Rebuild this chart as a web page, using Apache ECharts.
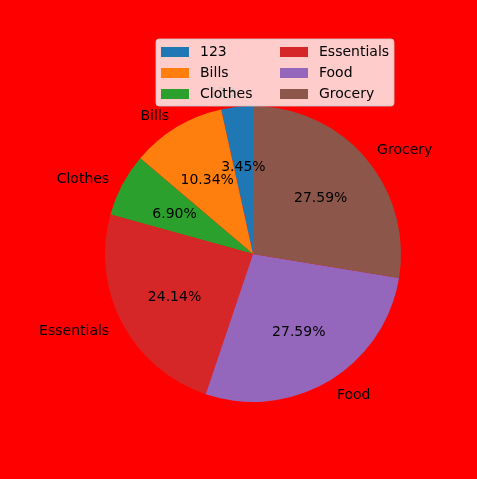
<!DOCTYPE html>
<html>
<head>
<meta charset="utf-8">
<script src="https://cdn.jsdelivr.net/npm/echarts@6/dist/echarts.min.js"></script>
<style>
  html, body { margin: 0; padding: 0; background: #ff0000; }
  #chart { width: 477px; height: 479px; }
</style>
</head>
<body>
<div id="chart"></div>
<script>
const categories = ['123', 'Bills', 'Clothes', 'Essentials', 'Food', 'Grocery'];
const counts = [1, 3, 2, 7, 8, 8];
const colors = ['#1f77b4', '#ff7f0e', '#2ca02c', '#d62728', '#9467bd', '#8c564b'];

const FONT = 'DejaVu Sans';
const R = 148;
const CENTER = [253, 254];

const total = counts.reduce((a, b) => a + b, 0);
const pieData = categories.map((name, i) => ({
  name,
  value: counts[i],
  itemStyle: { color: colors[i] },
}));

const chart = echarts.init(document.getElementById('chart'));

const legendBase = {
  orient: 'vertical',
  top: 45,
  padding: 0,
  itemWidth: 28,
  itemHeight: 10,
  itemGap: 7,
  icon: 'rect',
  selectedMode: false,
  z: 4,
  textStyle: { fontFamily: FONT, fontSize: 14, lineHeight: 14, color: '#000', padding: [0, 0, 0, 6] },
};

chart.setOption({
  backgroundColor: '#ff0000',
  animation: false,
  color: colors,
  graphic: [
    {
      type: 'rect',
      z: 3,
      shape: { x: 156, y: 39, width: 238, height: 67, r: 3 },
      style: { fill: 'rgba(255,255,255,0.8)', stroke: 'rgba(204,204,204,0.8)', lineWidth: 1 },
    },
  ],
  legend: [
    Object.assign({}, legendBase, { left: 161, data: categories.slice(0, 3) }),
    Object.assign({}, legendBase, { left: 280, data: categories.slice(3) }),
  ],
  series: [
    {
      // wedges with outside category labels
      type: 'pie',
      center: CENTER,
      radius: R,
      startAngle: 90,
      clockwise: false,
      avoidLabelOverlap: false,
      silent: true,
      z: 2,
      itemStyle: { borderWidth: 0 },
      label: {
        show: true,
        position: 'outside',
        fontFamily: FONT,
        fontSize: 14,
        color: '#000',
        distanceToLabelLine: 0,
      },
      labelLine: { show: false, length: R * 0.1, length2: 0 },
      labelLayout: () => ({ dy: 1.5 }),
      emphasis: { disabled: true },
      data: pieData,
    },
    {
      // tiny invisible pie, its outside labels sit at 0.6 R and get centred
      type: 'pie',
      center: CENTER,
      radius: 1,
      startAngle: 90,
      clockwise: false,
      avoidLabelOverlap: false,
      silent: true,
      z: 2,
      itemStyle: { color: 'rgba(0,0,0,0)', borderWidth: 0 },
      label: {
        show: true,
        position: 'outside',
        distanceToLabelLine: 0,
        fontFamily: FONT,
        fontSize: 14,
        color: '#000',
        formatter: (p) => (p.value / total * 100).toFixed(2) + '%',
      },
      labelLine: { show: false, length: R * 0.6 - 1, length2: 0 },
      labelLayout: () => ({ align: 'center', dy: 2 }),
      emphasis: { disabled: true },
      data: categories.map((name, i) => ({ name, value: counts[i] })),
    },
  ],
});
</script>
</body>
</html>
